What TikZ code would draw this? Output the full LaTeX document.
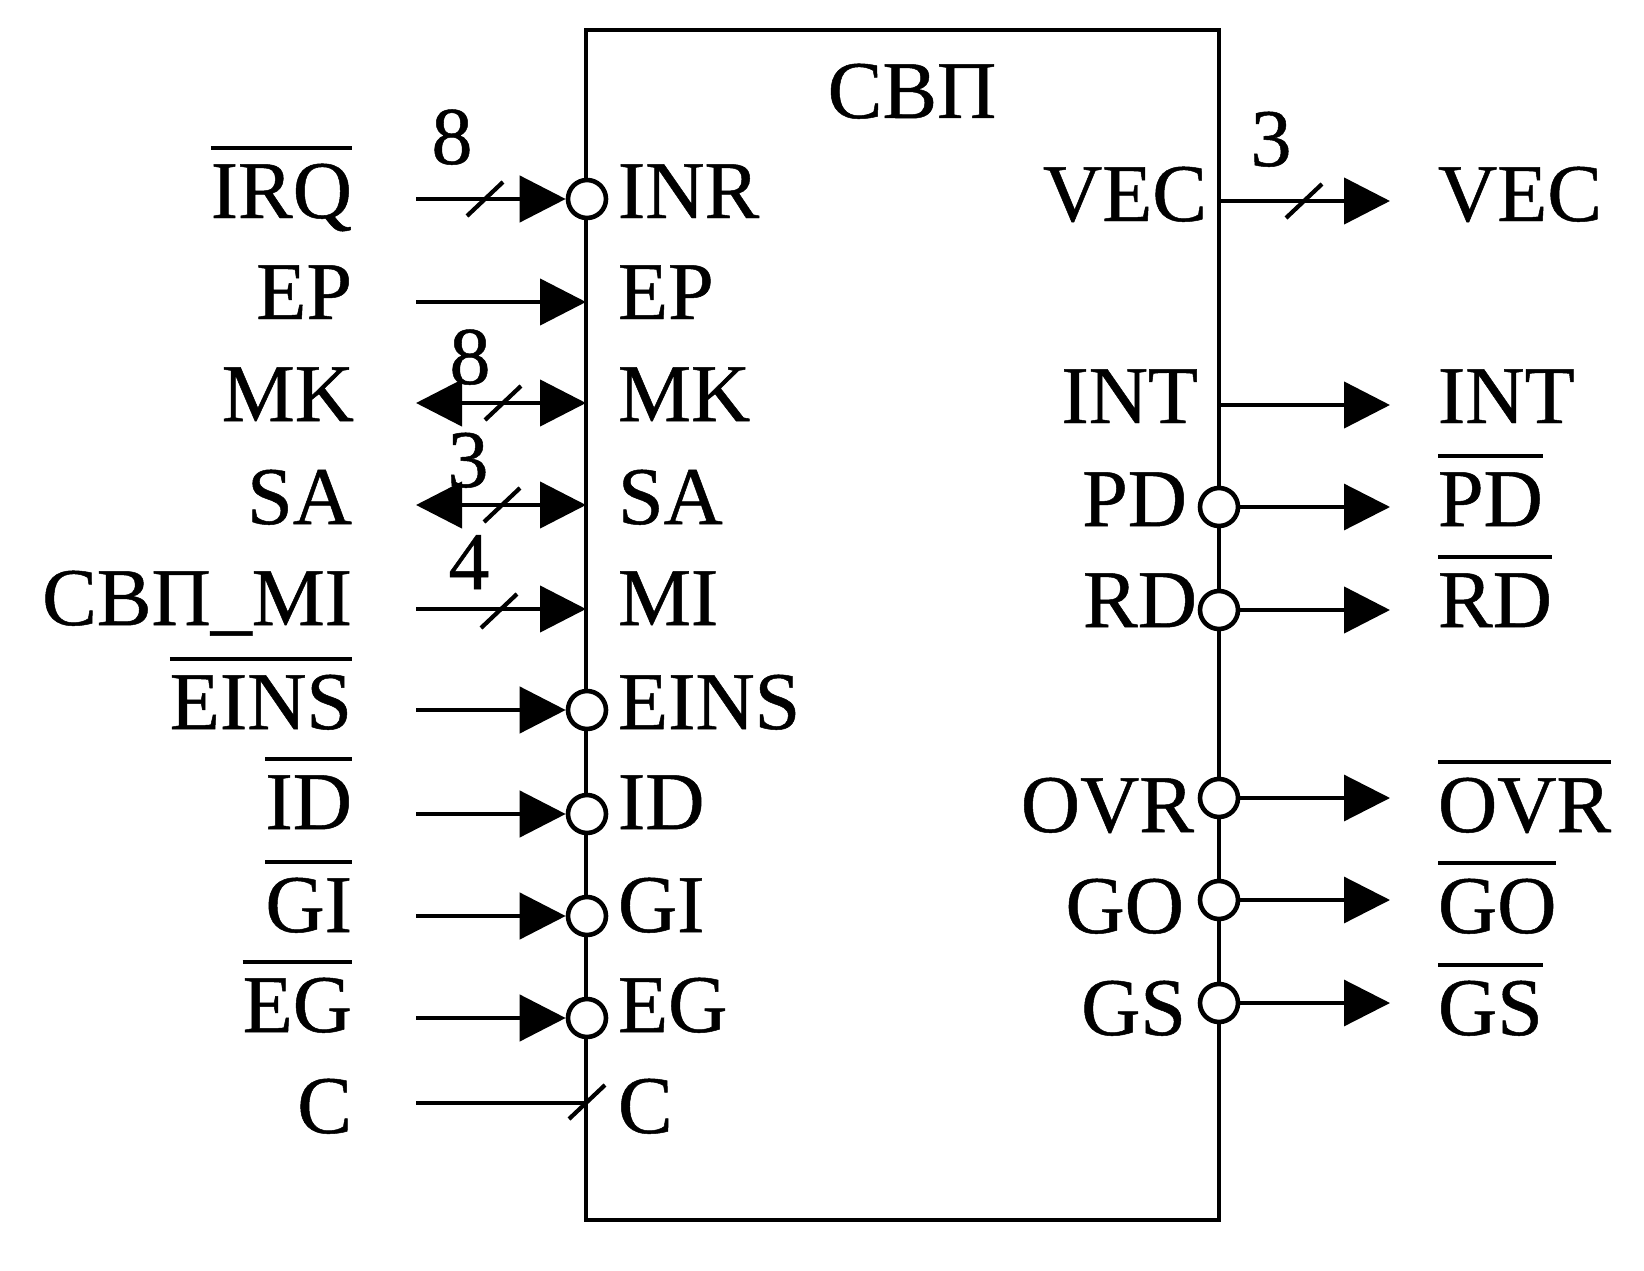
\documentclass[tikz,border=0pt]{standalone}
\usepackage{fontspec}
\setmainfont[FakeBold=0.6]{Liberation Serif}
\usetikzlibrary{arrows.meta}
\newcommand{\ovl}[1]{\setbox0=\hbox{#1}\rlap{\raisebox{68pt}{\rule{\wd0}{4pt}}}\box0}
\tikzset{
  lab/.style={inner sep=0pt,outer sep=0pt,font=\fontsize{82}{82}\selectfont},
  labl/.style={lab,anchor=base east},
  labr/.style={lab,anchor=base west},
  num/.style={lab,anchor=base},
  sig/.style={line width=4.4pt},
  thinsig/.style={line width=3.2pt},
  tip/.style={-{Triangle[length=46pt,width=46pt]}},
  twotip/.style={{Triangle[length=46pt,width=46pt]}-{Triangle[length=46pt,width=46pt]}},
  bubble/.style={circle,draw=black,fill=white,line width=4.6pt,minimum size=38pt,inner sep=0pt},
  slash/.style={line width=4.2pt},
  block/.style={draw=black,line width=4.8pt,minimum width=633pt,minimum height=1190pt,inner sep=0pt}
}
\begin{document}
\begin{tikzpicture}[x=1pt,y=-1pt]
\useasboundingbox (0,0) rectangle (1644,1271);
\node[block] (box) at (902.5,625) {};
\node[lab,anchor=base] (title) at (912,118) {СВП};
% input pins
\foreach \n/\y in {INR/199,EINS/710,ID/814,GI/916,EG/1018}{
  \node[bubble] (b\n) at (587,\y) {};
  \coordinate (s\n) at (416,\y);
  \draw[sig,tip] (s\n) -- (b\n.west);
}
\foreach \n/\y in {EP/302,MI/609}{
  \coordinate (s\n) at (416,\y);
  \coordinate (e\n) at (586,\y);
  \draw[sig,tip] (s\n) -- (e\n);
}
\foreach \n/\y in {MK/403,SA/505}{
  \coordinate (s\n) at (416,\y);
  \coordinate (e\n) at (586,\y);
  \draw[sig,twotip] (s\n) -- (e\n);
}
\coordinate (sC) at (416,1103);
\coordinate (eC) at (586,1103);
\draw[sig] (sC) -- (eC);
% output pins
\foreach \n/\y in {VEC/201,INT/405}{
  \coordinate (o\n) at (1219,\y);
  \coordinate (t\n) at (1390,\y);
  \draw[sig,tip] (o\n) -- (t\n);
}
\foreach \n/\y/\w in {PD/507/thinsig,RD/610/sig,OVR/798/thinsig,GO/900/thinsig,GS/1003/thinsig}{
  \node[bubble] (b\n) at (1219,\y) {};
  \coordinate (t\n) at (1390,\y);
  \draw[\w,tip] (b\n.east) -- (t\n);
}
% bus slashes
\foreach \x/\y in {485/199,503/403,502/505,499/611,1304/201,587/1102}{
  \draw[slash] (\x-18,\y+17) -- (\x+18,\y-17);
}
% left outer labels
\node[labl] (lIRQ) at (352,218) {\ovl{IRQ}};
\node[labl] (lEP) at (352,319) {EP};
\node[labl] (lMK) at (354,421) {MK};
\node[labl] (lSA) at (352,524) {SA};
\node[labl] (lMI) at (352,625) {СВП\_MI};
\node[labl] (lEINS) at (352,729) {\ovl{EINS}};
\node[labl] (lID) at (352,829) {\ovl{ID}};
\node[labl] (lGI) at (352,932) {\ovl{GI}};
\node[labl] (lEG) at (352,1032) {\ovl{EG}};
\node[labl] (lC) at (352,1133) {C};
% left inner labels
\node[labr] (iINR) at (618,218) {INR};
\node[labr] (iEP) at (618,319) {EP};
\node[labr] (iMK) at (618,421) {MK};
\node[labr] (iSA) at (618,524) {SA};
\node[labr] (iMI) at (618,625) {MI};
\node[labr] (iEINS) at (618,729) {EINS};
\node[labr] (iID) at (618,829) {ID};
\node[labr] (iGI) at (618,932) {GI};
\node[labr] (iEG) at (618,1032) {EG};
\node[labr] (iC) at (618,1133) {C};
% right inner labels
\node[labl] (rVEC) at (1207,221) {VEC};
\node[labl] (rINT) at (1198,423) {INT};
\node[labl] (rPD) at (1187,526) {PD};
\node[labl] (rRD) at (1197,627) {RD};
\node[labl] (rOVR) at (1194,832) {OVR};
\node[labl] (rGO) at (1184,933) {GO};
\node[labl] (rGS) at (1186,1035) {GS};
% right outer labels
\node[labr] (qVEC) at (1438,221) {VEC};
\node[labr] (qINT) at (1438,423) {INT};
\node[labr] (qPD) at (1438,526) {\ovl{PD}};
\node[labr] (qRD) at (1438,627) {\ovl{RD}};
\node[labr] (qOVR) at (1438,832) {\ovl{OVR}};
\node[labr] (qGO) at (1438,933) {\ovl{GO}};
\node[labr] (qGS) at (1438,1035) {\ovl{GS}};
% bus widths
\node[num] (n1) at (452,164) {8};
\node[num] (n2) at (470,384) {8};
\node[num] (n3) at (468,487) {3};
\node[num] (n4) at (469,589) {4};
\node[num] (n5) at (1271,166) {3};
\end{tikzpicture}
\end{document}
